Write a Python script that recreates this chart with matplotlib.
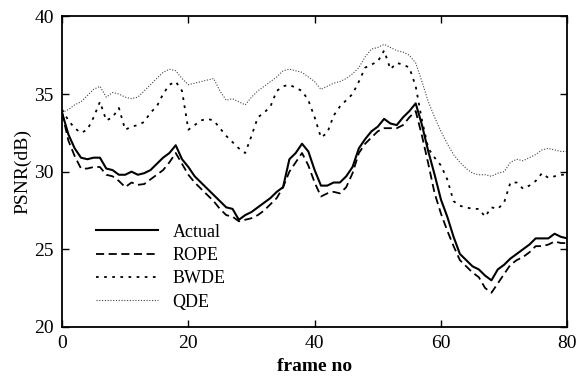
import numpy as np
import matplotlib
matplotlib.use("Agg")
import matplotlib.pyplot as plt

plt.rcParams['font.family'] = ['Liberation Serif', 'DejaVu Serif']

frames = np.arange(0, 81)

actual = [33.8, 32.4, 31.5, 30.9, 30.8, 30.9, 30.9, 30.2, 30.1, 29.8,
          29.8, 30.0, 29.8, 29.9, 30.1, 30.5, 30.9, 31.2, 31.7, 30.8,
          30.3, 29.7, 29.3, 28.9, 28.5, 28.1, 27.7, 27.6, 26.9, 27.2,
          27.4, 27.7, 28.0, 28.3, 28.7, 29.0, 30.8, 31.2, 31.8, 31.3,
          30.1, 29.1, 29.1, 29.3, 29.3, 29.7, 30.3, 31.5, 32.1, 32.6,
          32.9, 33.4, 33.1, 33.0, 33.5, 33.9, 34.4, 33.0, 31.3, 29.8,
          28.2, 27.1, 25.8, 24.7, 24.3, 23.9, 23.7, 23.3, 23.0, 23.7,
          24.0, 24.4, 24.7, 25.0, 25.3, 25.7, 25.7, 25.7, 26.0, 25.8,
          25.7]

rope = [33.8, 32.0, 31.0, 30.2, 30.2, 30.3, 30.3, 29.8, 29.7, 29.4,
        29.0, 29.3, 29.15, 29.2, 29.5, 29.8, 30.1, 30.6, 31.2, 30.5,
        29.8, 29.3, 28.9, 28.5, 28.1, 27.6, 27.2, 27.1, 26.8, 26.9,
        27.0, 27.2, 27.5, 27.9, 28.3, 29.0, 30.0, 30.6, 31.2, 30.4,
        29.3, 28.4, 28.6, 28.7, 28.6, 29.0, 29.9, 31.2, 31.8, 32.2,
        32.6, 32.8, 32.8, 32.8, 33.0, 33.5, 33.9, 32.3, 30.5, 28.6,
        27.3, 26.2, 25.2, 24.3, 23.9, 23.5, 23.2, 22.5, 22.2, 22.8,
        23.4, 24.0, 24.3, 24.5, 24.8, 25.2, 25.2, 25.3, 25.5, 25.4,
        25.4]

bwde = [34.0, 33.3, 32.8, 32.5, 32.7, 33.5, 34.5, 33.3, 33.5, 34.1,
        32.7, 32.9, 33.0, 33.2, 33.8, 34.2, 35.0, 35.6, 35.8, 35.2,
        32.7, 33.0, 33.3, 33.4, 33.3, 32.8, 32.3, 31.9, 31.5, 31.2,
        32.3, 33.5, 33.8, 34.2, 35.2, 35.5, 35.6, 35.4, 35.2, 34.6,
        33.5, 32.2, 32.5, 33.6, 34.2, 34.6, 35.0, 35.8, 36.7, 36.9,
        37.1, 37.8, 36.6, 37.0, 36.9, 36.7, 35.5, 33.3, 31.5, 30.9,
        30.4, 29.5, 28.1, 27.8, 27.7, 27.6, 27.6, 27.1, 27.7, 27.6,
        28.0, 29.3, 29.3, 28.9, 29.1, 29.4, 29.9, 29.6, 29.7, 29.8,
        29.8]

qde = [33.8, 34.0, 34.3, 34.5, 34.9, 35.3, 35.5, 34.8, 35.1, 35.0,
       34.8, 34.7, 34.8, 35.2, 35.6, 36.0, 36.4, 36.6, 36.5, 36.0,
       35.6, 35.7, 35.8, 35.9, 36.0, 35.2, 34.6, 34.7, 34.5, 34.3,
       34.8, 35.2, 35.5, 35.8, 36.1, 36.5, 36.6, 36.5, 36.4, 36.1,
       35.8, 35.3, 35.5, 35.7, 35.8, 36.0, 36.3, 36.7, 37.4, 37.9,
       38.0, 38.2, 38.0, 37.8, 37.7, 37.5, 37.0, 35.8, 34.5, 33.5,
       32.6, 31.8, 31.1, 30.6, 30.2, 29.9, 29.8, 29.8, 29.7, 29.9,
       30.0, 30.6, 30.8, 30.7, 30.9, 31.1, 31.4, 31.5, 31.4, 31.3,
       31.3]

fig = plt.figure(figsize=(5.8, 3.91), dpi=100)
ax = fig.add_axes([0.107, 0.164, 0.871, 0.794])

ax.plot(frames, actual, color='black', lw=1.5, label='Actual')
ax.plot(frames, rope, color='black', lw=1.3, linestyle=(0, (4.5, 2.5)), label='ROPE')
ax.plot(frames, bwde, color='black', lw=1.3, linestyle=(0, (1.5, 3)), label='BWDE')
ax.plot(frames, qde, color='#444444', lw=0.8, linestyle=(0, (1, 1.5)), label='QDE')

ax.set_xlim(0, 80)
ax.set_ylim(20, 40)
ax.set_xticks([0, 20, 40, 60, 80])
ax.set_yticks([20, 25, 30, 35, 40])
ax.tick_params(direction='in', top=True, right=True, length=5, width=1, labelsize=14, pad=6)
for s in ax.spines.values():
    s.set_linewidth(1.3)

ax.set_xlabel('frame no', fontsize=14, fontweight='bold', labelpad=4)
ax.set_ylabel('PSNR(dB)', fontsize=14, labelpad=2)

leg = ax.legend(loc='lower left', bbox_to_anchor=(0.036, 0.0), frameon=False,
                fontsize=13, handlelength=3.4, handletextpad=0.8, labelspacing=0.35)

fig.savefig('out.png', dpi=100)
